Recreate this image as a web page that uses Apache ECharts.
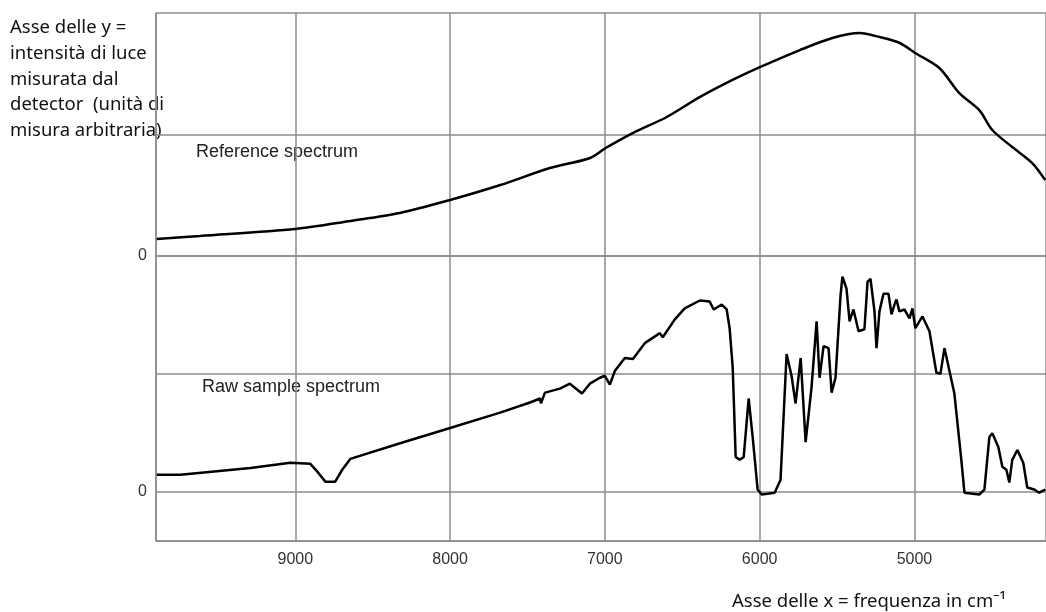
<!DOCTYPE html>
<html>
<head>
<meta charset="utf-8">
<script src="https://cdn.jsdelivr.net/npm/echarts@6/dist/echarts.min.js"></script>
<style>
	html, body { margin: 0; padding: 0; background: #fff; }
	#spettro { width: 1046px; height: 612px; }
</style>
</head>
<body>
<div id="spettro"></div>
<script>
// numero d'onda (cm-1) e intensita'
var refWavenumber = [9895, 9615, 9000, 8645, 8325, 8000, 7675, 7355, 7095, 6995, 6820, 6600, 6385, 6175, 5995, 5740, 5530, 5355, 5225, 5095, 4995, 4839, 4710, 4581, 4497, 4368, 4239, 4155];
var refIntensity  = [0.14, 0.165, 0.222, 0.288, 0.354, 0.461, 0.584, 0.724, 0.807, 0.889, 1.012, 1.144, 1.309, 1.449, 1.556, 1.695, 1.794, 1.835, 1.802, 1.753, 1.671, 1.547, 1.34, 1.20, 1.037, 0.897, 0.765, 0.625];

var rawWavenumber = [9895, 9742, 9290, 9032, 8903, 8852, 8806, 8742, 8697, 8645, 8323, 8000, 7677, 7484, 7419, 7413, 7387, 7290, 7226, 7148, 7097, 7032, 7000, 6968, 6935, 6871, 6819, 6742, 6645, 6626, 6548, 6484, 6387, 6323, 6297, 6245, 6213, 6194, 6174, 6155, 6129, 6103, 6071, 6045, 6013, 5987, 5903, 5865, 5826, 5794, 5768, 5735, 5703, 5665, 5632, 5613, 5587, 5555, 5535, 5510, 5477, 5465, 5439, 5419, 5394, 5361, 5323, 5303, 5284, 5258, 5245, 5226, 5200, 5168, 5148, 5129, 5116, 5097, 5065, 5032, 5013, 4994, 4968, 4948, 4903, 4858, 4832, 4806, 4774, 4742, 4697, 4677, 4581, 4548, 4516, 4497, 4458, 4432, 4406, 4387, 4368, 4335, 4297, 4271, 4226, 4194, 4155];
var rawIntensity  = [0.143, 0.143, 0.20, 0.244, 0.235, 0.16, 0.084, 0.084, 0.185, 0.277, 0.41, 0.54, 0.67, 0.756, 0.79, 0.75, 0.84, 0.874, 0.916, 0.832, 0.916, 0.966, 0.983, 0.908, 1.025, 1.134, 1.126, 1.26, 1.345, 1.31, 1.462, 1.555, 1.622, 1.613, 1.546, 1.588, 1.546, 1.387, 1.05, 0.294, 0.269, 0.294, 0.79, 0.462, 0.017, -0.025, -0.01, 0.10, 1.168, 0.983, 0.748, 1.134, 0.42, 0.882, 1.445, 0.966, 1.235, 1.218, 0.84, 0.966, 1.672, 1.824, 1.723, 1.445, 1.546, 1.361, 1.378, 1.78, 1.807, 1.53, 1.218, 1.53, 1.68, 1.68, 1.504, 1.588, 1.63, 1.53, 1.546, 1.47, 1.555, 1.387, 1.445, 1.487, 1.361, 1.008, 1.0, 1.218, 1.025, 0.832, 0.269, -0.01, -0.025, 0.017, 0.462, 0.496, 0.378, 0.21, 0.185, 0.076, 0.269, 0.353, 0.244, 0.034, 0.017, -0.01, 0.017];

var xRange = [4150, 9900];

function pairs(xs, ys){
	var out = [];
	for (var i = 0; i < xs.length; i++) out.push([xs[i], ys[i]]);
	return out;
}

var gridLine = { lineStyle: { color: '#8c8c8c', width: 1.5 } };
var axisLine = { show: true, onZero: false, lineStyle: { color: '#8c8c8c', width: 1.5 } };
function zeroOnly(v){ return v === 0 ? '0' : ''; }

var chart = echarts.init(document.getElementById('spettro'));

chart.setOption({
	animation: false,
	backgroundColor: '#fff',
	grid: [
		{ left: 156, right: 0, top: 13, height: 243 },
		{ left: 156, right: 0, top: 256, height: 285 }
	],
	xAxis: [
		{
			type: 'value', gridIndex: 0, inverse: true,
			min: xRange[0], max: xRange[1], splitNumber: 5,
			axisLine: { show: false }, axisTick: { show: false },
			axisLabel: { show: false },
			splitLine: gridLine
		},
		{
			type: 'value', gridIndex: 1, inverse: true,
			min: xRange[0], max: xRange[1], splitNumber: 5,
			axisLine: axisLine,
			axisTick: { show: false },
			axisLabel: {
				margin: 11, showMinLabel: false, showMaxLabel: false,
				formatter: function(v){ return String(v); },
				fontFamily: 'Liberation Sans', fontSize: 16, color: '#333'
			},
			splitLine: gridLine
		}
	],
	yAxis: [
		{
			type: 'value', gridIndex: 0, min: 0, max: 2, interval: 1,
			axisLine: axisLine,
			axisTick: { show: false },
			axisLabel: { margin: 9, formatter: zeroOnly, fontFamily: 'Liberation Sans', fontSize: 16, color: '#333' },
			splitLine: gridLine
		},
		{
			type: 'value', gridIndex: 1, min: -0.42, max: 2, splitNumber: 3,
			axisLine: axisLine,
			axisTick: { show: false },
			axisLabel: { margin: 9, formatter: zeroOnly, fontFamily: 'Liberation Sans', fontSize: 16, color: '#333' },
			splitLine: gridLine
		}
	],
	series: [
		{
			name: 'Reference spectrum', type: 'line',
			xAxisIndex: 0, yAxisIndex: 0,
			showSymbol: false, smooth: 0.3,
			lineStyle: { color: '#000', width: 2.5 },
			data: pairs(refWavenumber, refIntensity)
		},
		{
			name: 'Raw sample spectrum', type: 'line',
			xAxisIndex: 1, yAxisIndex: 1,
			showSymbol: false,
			lineStyle: { color: '#000', width: 2.5 },
			data: pairs(rawWavenumber, rawIntensity)
		}
	],
	graphic: [
		{
			type: 'text', x: 10, y: 15,
			style: {
				text: 'Asse delle y =\nintensità di luce\nmisurata dal\ndetector  (unità di\nmisura arbitraria)',
				font: '18.5px "Noto Sans"', lineHeight: 25.7, fill: '#111'
			}
		},
		{
			type: 'text', x: 196, y: 152,
			style: { text: 'Reference spectrum', font: '18px "Liberation Sans"', fill: '#222', verticalAlign: 'middle' }
		},
		{
			type: 'text', x: 202, y: 387,
			style: { text: 'Raw sample spectrum', font: '18px "Liberation Sans"', fill: '#222', verticalAlign: 'middle' }
		},
		{
			type: 'text', x: 732, y: 602,
			style: { text: 'Asse delle x = frequenza in cm⁻¹', font: '18.5px "Noto Sans"', fill: '#111', verticalAlign: 'middle' }
		}
	]
});
</script>
</body>
</html>
